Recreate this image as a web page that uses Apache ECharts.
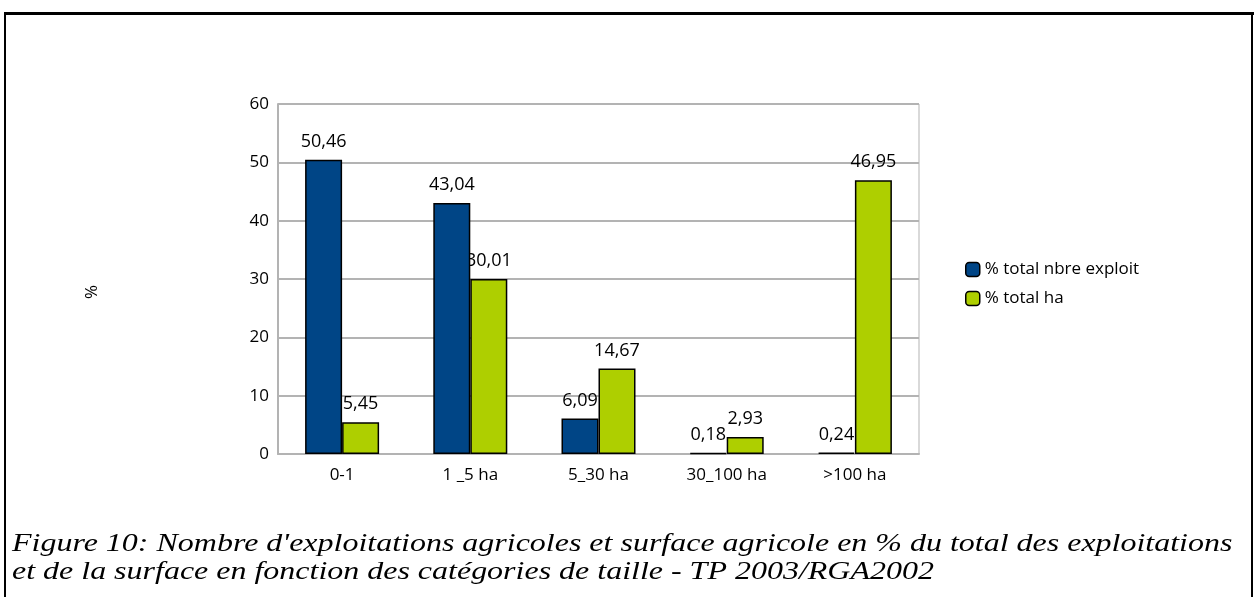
<!DOCTYPE html>
<html><head><meta charset="utf-8">
<script src="https://cdn.jsdelivr.net/npm/echarts@6/dist/echarts.min.js"></script>
<style>html,body{margin:0;padding:0;background:#fff}#c{width:1254px;height:597px}</style>
</head><body><div id="c"></div>
<script>
const categories = ['0-1', '1 _5 ha', '5_30 ha', '30_100 ha', '>100 ha'];
const seriesNames = ['% total nbre exploit', '% total ha'];
const exploitValues = [50.46, 43.04, 6.09, 0.18, 0.24];
const haValues = [5.45, 30.01, 14.67, 2.93, 46.95];
const yTicks = [0, 10, 20, 30, 40, 50, 60];
const yAxisName = '%';
const captionLines = ["Figure 10: Nombre d'exploitations agricoles et surface agricole en % du total des exploitations",
  "et de la surface en fonction des catégories de taille - TP 2003/RGA2002"];

const fmt = v => String(v.toFixed(2)).replace('.', ',');
const font = 'Open Sans';
const chart = echarts.init(document.getElementById('c'));
const label = {show: true, position: 'top', distance: 9, color: '#000', fontFamily: font, fontSize: 18,
  formatter: p => fmt(p.value)};
chart.setOption({
  animation: false,
  grid: {left: 278, top: 104, width: 641, height: 350, containLabel: false, show: true, borderColor: '#b3b3b3', borderWidth: 1},
  legend: {orient: 'vertical', left: 960, top: 256, itemWidth: 14, itemHeight: 14, itemGap: 12,
    textStyle: {fontFamily: font, fontSize: 17, color: '#000'},
    data: seriesNames.map(n => ({name: n, itemStyle: {borderColor: '#000', borderWidth: 1.5}}))},
  xAxis: {type: 'category', data: categories,
    axisLine: {lineStyle: {color: '#b3b3b3', width: 2}}, axisTick: {show: false},
    axisLabel: {color: '#000', fontFamily: font, fontSize: 17, margin: 13}},
  yAxis: {type: 'value', min: yTicks[0], max: yTicks[yTicks.length - 1], interval: 10,
    axisLine: {show: true, lineStyle: {color: '#b3b3b3', width: 2}}, axisTick: {show: false},
    splitLine: {lineStyle: {color: '#b3b3b3', width: 2}},
    axisLabel: {color: '#000', fontFamily: font, fontSize: 17, margin: 9}},
  series: [
    {name: seriesNames[0], type: 'bar', data: exploitValues, barWidth: 37, barGap: '0%',
      itemStyle: {color: '#004586', borderColor: '#000', borderWidth: 1.5}, label: label, z: 3},
    {name: seriesNames[1], type: 'bar', data: haValues, barWidth: 37, barGap: '0%',
      itemStyle: {color: '#aecf00', borderColor: '#000', borderWidth: 1.5}, label: label, z: 2}
  ],
  graphic: [
    {type: 'line', shape: {x1: 4, y1: 13.5, x2: 1254, y2: 13.5}, style: {stroke: '#000', lineWidth: 3}},
    {type: 'line', shape: {x1: 5, y1: 12, x2: 5, y2: 597}, style: {stroke: '#000', lineWidth: 2}},
    {type: 'line', shape: {x1: 1252, y1: 12, x2: 1252, y2: 597}, style: {stroke: '#000', lineWidth: 2}},
    {type: 'text', x: 92, y: 292, rotation: Math.PI / 2,
      style: {text: yAxisName, fill: '#000', font: '17px "Open Sans"', align: 'center', verticalAlign: 'middle'}},
    {type: 'text', x: 12, y: 530, scaleX: 1.23,
      style: {text: captionLines.join('\n'), fill: '#000', font: 'italic 26px "Liberation Serif"', lineHeight: 28}}
  ]
});
</script></body></html>
